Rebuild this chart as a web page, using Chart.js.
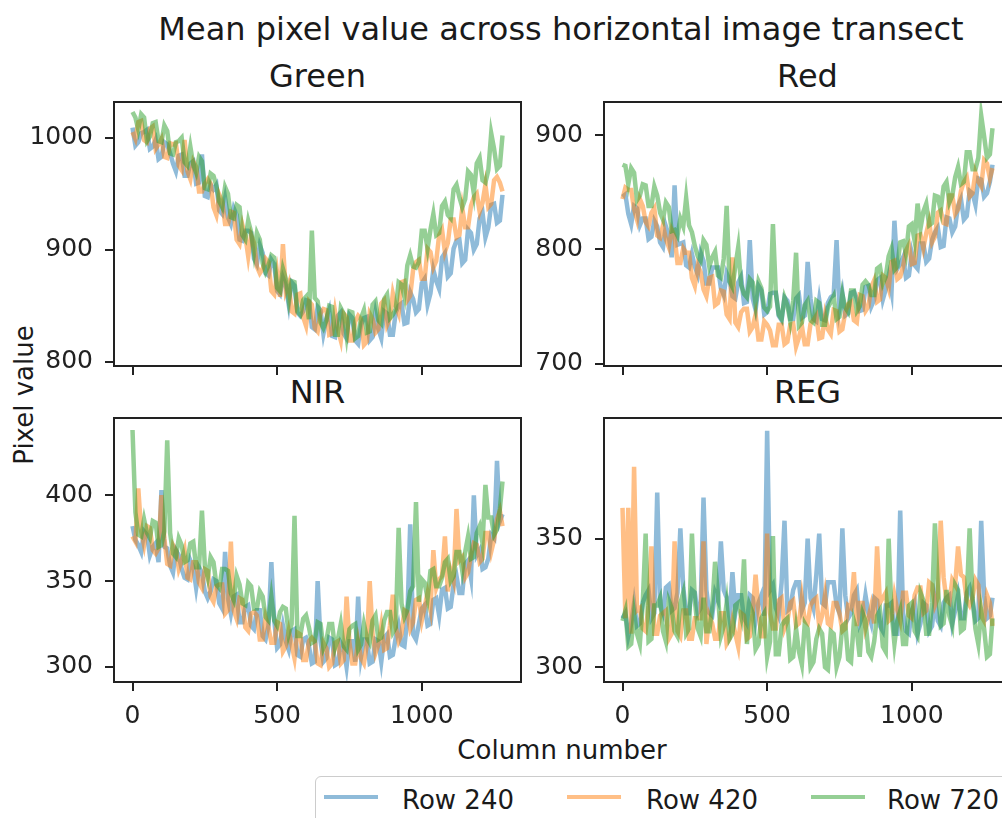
<!DOCTYPE html>
<html>
<head>
<meta charset="utf-8">
<title>Mean pixel value across horizontal image transect</title>
<script src="https://cdn.jsdelivr.net/npm/chart.js@4.4.1/dist/chart.umd.min.js"></script>
<style>
  html, body { margin: 0; padding: 0; background: #fff; }
  body {
    width: 1002px; height: 818px; overflow: hidden; position: relative;
    font-family: "DejaVu Sans", sans-serif; color: #1a1a1a;
  }
  canvas { position: absolute; }
  .txt { position: absolute; white-space: nowrap; line-height: 1; }
  .center { transform: translateX(-50%); }
  #legendBox {
    position: absolute; left: 315px; top: 776px; width: 740px; height: 80px;
    border: 1.5px solid #cccccc; border-radius: 6px; background: rgba(255,255,255,0.8);
  }
  .handle { position: absolute; height: 4px; }
</style>
</head>
<body>
<div class="txt center" style="left:561px; top:12.9px; font-size:32px;">Mean pixel value across horizontal image transect</div>
<div class="txt center" style="left:317.5px; top:60px; font-size:32px;">Green</div>
<div class="txt center" style="left:807.5px; top:60px; font-size:32px;">Red</div>
<div class="txt center" style="left:317.5px; top:376px; font-size:32px;">NIR</div>
<div class="txt center" style="left:807.5px; top:376px; font-size:32px;">REG</div>
<div class="txt center" style="left:562px; top:737px; font-size:26px;">Column number</div>
<div class="txt" style="left:24px; top:395px; font-size:26px; transform: translate(-50%, -50%) rotate(-90deg);">Pixel value</div>

<canvas id="greenChart" width="525" height="282" style="left:0px; top:98px;"></canvas>
<canvas id="redChart" width="525" height="282" style="left:490px; top:98px;"></canvas>
<canvas id="nirChart" width="525" height="318" style="left:0px; top:414px;"></canvas>
<canvas id="regChart" width="525" height="318" style="left:490px; top:414px;"></canvas>

<div id="legendBox"></div>

<script>
// column positions along the transect
const columns = [0, 10, 20, 30, 40, 50, 60, 70, 80, 90, 100, 110, 120, 130, 140, 150, 160, 170,
  180, 190, 200, 210, 220, 230, 240, 250, 260, 270, 280, 290, 300, 310, 320, 330, 340, 350, 360,
  370, 380, 390, 400, 410, 420, 430, 440, 450, 460, 470, 480, 490, 500, 510, 520, 530, 540, 550,
  560, 570, 580, 590, 600, 610, 620, 630, 640, 650, 660, 670, 680, 690, 700, 710, 720, 730, 740,
  750, 760, 770, 780, 790, 800, 810, 820, 830, 840, 850, 860, 870, 880, 890, 900, 910, 920, 930,
  940, 950, 960, 970, 980, 990, 1000, 1010, 1020, 1030, 1040, 1050, 1060, 1070, 1080, 1090, 1100,
  1110, 1120, 1130, 1140, 1150, 1160, 1170, 1180, 1190, 1200, 1210, 1220, 1230, 1240, 1250, 1260,
  1270, 1279];

const rowLabels = ['Row 240', 'Row 420', 'Row 720'];
const rowColors = ['rgba(31,119,180,0.5)', 'rgba(255,127,14,0.5)', 'rgba(44,160,44,0.5)'];

// Green band
const greenRow240 = [1009, 993, 996, 1004, 1005, 1007, 990, 992, 998, 981,
  983, 996, 994, 986, 977, 970, 984, 985, 966, 966,
  977, 979, 959, 960, 985, 948, 947, 958, 954, 958,
  935, 932, 946, 929, 923, 937, 931, 909, 908, 917,
  917, 915, 892, 887, 904, 897, 879, 877, 891, 887,
  863, 860, 875, 868, 851, 871, 868, 844, 841, 845,
  855, 854, 831, 829, 849, 846, 825, 838, 846, 823,
  822, 841, 844, 825, 821, 842, 839, 819, 816, 833,
  839, 840, 819, 822, 843, 829, 821, 845, 843, 824,
  824, 844, 850, 852, 834, 835, 862, 856, 844, 847,
  870, 874, 851, 861, 882, 872, 865, 893, 897, 876,
  879, 901, 908, 909, 888, 891, 918, 915, 900, 905,
  928, 933, 911, 920, 940, 941, 924, 926, 949];
const greenRow420 = [1005, 999, 1014, 1015, 998, 996, 1008, 1010, 990, 994,
  999, 983, 982, 995, 994, 995, 975, 971, 998, 970,
  963, 979, 974, 952, 952, 959, 963, 959, 938, 931,
  949, 943, 923, 923, 934, 933, 909, 905, 922, 912,
  894, 913, 906, 885, 879, 883, 892, 889, 863, 860,
  879, 858, 905, 863, 870, 845, 843, 860, 861, 840,
  832, 854, 851, 830, 827, 843, 847, 846, 824, 825,
  845, 829, 819, 843, 840, 819, 819, 836, 841, 838,
  815, 818, 843, 838, 826, 829, 852, 855, 833, 839,
  861, 850, 843, 871, 872, 855, 859, 882, 889, 891,
  874, 874, 901, 898, 884, 890, 913, 918, 898, 906,
  927, 927, 911, 913, 937, 920, 920, 939, 947, 950,
  934, 942, 958, 938, 941, 962, 965, 960, 952];
const greenRow720 = [1023, 1018, 1007, 1021, 1018, 997, 1001, 1013, 1014, 997,
  996, 1011, 1006, 986, 985, 996, 997, 1000, 978, 975,
  992, 976, 969, 983, 979, 955, 954, 968, 966, 957,
  943, 938, 956, 950, 929, 928, 940, 938, 913, 909,
  926, 916, 897, 915, 909, 888, 880, 886, 895, 893,
  866, 863, 883, 874, 855, 872, 871, 845, 842, 855,
  858, 838, 917, 857, 854, 835, 830, 837, 850, 849,
  824, 824, 848, 843, 823, 845, 844, 821, 823, 839,
  846, 826, 827, 851, 854, 837, 834, 856, 860, 839,
  842, 847, 871, 869, 858, 886, 895, 885, 884, 889,
  917, 917, 901, 918, 932, 913, 915, 939, 943, 931,
  928, 954, 958, 947, 938, 945, 970, 967, 950, 977,
  982, 962, 960, 971, 1004, 990, 972, 975, 1002];

// Red band
const redRow240 = [846, 848, 831, 822, 838, 836, 821, 827, 827, 809,
  811, 825, 820, 806, 802, 820, 812, 793, 856, 804,
  805, 806, 786, 784, 796, 785, 778, 797, 790, 770,
  770, 784, 784, 784, 766, 760, 779, 773, 759, 757,
  771, 776, 753, 754, 808, 757, 747, 768, 764, 743,
  745, 761, 762, 762, 742, 738, 758, 755, 739, 739,
  757, 760, 740, 742, 789, 757, 739, 737, 756, 739,
  738, 753, 758, 760, 808, 748, 762, 742, 744, 762,
  763, 757, 746, 747, 767, 768, 750, 756, 773, 775,
  756, 765, 777, 763, 825, 783, 787, 793, 775, 777,
  797, 786, 783, 805, 805, 789, 792, 808, 815, 819,
  802, 803, 828, 827, 815, 820, 838, 844, 826, 829,
  851, 849, 839, 862, 861, 846, 849, 859, 874];
const redRow420 = [844, 854, 852, 852, 835, 826, 844, 838, 824, 820,
  832, 836, 812, 810, 821, 809, 802, 817, 811, 788,
  788, 801, 797, 797, 775, 768, 786, 780, 765, 759,
  775, 776, 751, 753, 764, 763, 743, 739, 793, 736,
  732, 745, 748, 748, 728, 732, 743, 721, 721, 737,
  734, 729, 716, 716, 734, 734, 717, 719, 734, 735,
  715, 723, 733, 717, 717, 735, 738, 742, 722, 723,
  742, 730, 726, 747, 746, 728, 730, 745, 752, 754,
  738, 736, 760, 759, 746, 750, 767, 773, 754, 756,
  777, 775, 766, 789, 790, 774, 776, 785, 799, 804,
  787, 788, 812, 813, 801, 814, 824, 806, 811, 832,
  834, 823, 822, 847, 847, 831, 835, 851, 859, 863,
  846, 849, 867, 859, 855, 878, 875, 862, 871];
const redRow720 = [874, 873, 857, 871, 867, 843, 847, 857, 856, 838,
  838, 855, 847, 832, 826, 841, 837, 816, 817, 812,
  827, 820, 845, 821, 815, 803, 794, 790, 808, 804,
  785, 793, 798, 777, 775, 792, 838, 772, 767, 785,
  802, 769, 761, 758, 774, 771, 752, 772, 766, 749,
  746, 750, 822, 762, 743, 739, 758, 751, 737, 755,
  797, 733, 736, 751, 755, 738, 736, 755, 753, 734,
  734, 749, 754, 759, 739, 741, 761, 749, 745, 764,
  764, 746, 750, 769, 772, 769, 760, 760, 783, 785,
  770, 776, 794, 801, 782, 785, 806, 807, 796, 820,
  822, 807, 840, 818, 833, 840, 821, 823, 847, 846,
  834, 855, 859, 841, 847, 863, 872, 857, 859, 885,
  885, 870, 870, 880, 917, 899, 880, 883, 906];

// NIR band
const nirRow240 = [382, 374, 371, 367, 379, 377, 365, 370, 372, 361,
  403, 370, 369, 359, 355, 368, 365, 357, 352, 351,
  362, 358, 346, 358, 355, 344, 340, 344, 351, 350,
  337, 334, 367, 340, 331, 341, 342, 326, 326, 335,
  336, 324, 322, 333, 333, 318, 316, 324, 361, 327,
  311, 313, 324, 315, 310, 321, 322, 307, 306, 316,
  317, 312, 302, 303, 350, 315, 303, 305, 317, 316,
  301, 302, 314, 311, 300, 315, 315, 303, 341, 306,
  316, 316, 302, 303, 316, 315, 303, 317, 319, 306,
  307, 317, 324, 313, 312, 328, 383, 319, 316, 325,
  334, 336, 324, 325, 339, 340, 330, 345, 346, 334,
  335, 348, 353, 343, 343, 360, 362, 352, 400, 365,
  368, 357, 358, 363, 377, 375, 420, 385, 389];
const nirRow420 = [376, 373, 404, 379, 371, 382, 381, 368, 366, 369,
  400, 375, 360, 359, 371, 368, 357, 362, 368, 352,
  351, 361, 361, 349, 346, 357, 356, 341, 338, 347,
  348, 348, 331, 333, 373, 333, 328, 340, 339, 323,
  321, 331, 332, 330, 316, 316, 329, 323, 314, 314,
  326, 325, 309, 312, 321, 313, 305, 320, 319, 304,
  304, 315, 317, 315, 302, 301, 314, 311, 300, 302,
  314, 315, 302, 304, 341, 314, 302, 302, 315, 305,
  302, 313, 350, 319, 308, 313, 324, 310, 311, 324,
  342, 323, 315, 319, 333, 332, 322, 326, 339, 340,
  327, 335, 343, 334, 368, 346, 351, 353, 376, 344,
  356, 350, 392, 362, 364, 352, 355, 365, 372, 371,
  361, 363, 378, 378, 367, 374, 386, 391, 382];
const nirRow720 = [438, 390, 377, 376, 386, 378, 375, 385, 384, 370,
  371, 379, 432, 378, 366, 364, 375, 371, 361, 362,
  372, 373, 358, 358, 391, 359, 352, 364, 361, 348,
  346, 357, 357, 356, 343, 339, 353, 348, 337, 336,
  349, 347, 334, 334, 344, 341, 329, 327, 341, 327,
  324, 332, 335, 334, 319, 325, 388, 318, 318, 328,
  330, 323, 314, 315, 326, 325, 311, 315, 325, 325,
  311, 316, 325, 312, 310, 322, 324, 325, 310, 313,
  325, 317, 314, 327, 330, 316, 317, 327, 332, 332,
  320, 323, 381, 337, 329, 333, 344, 347, 396, 338,
  351, 349, 340, 356, 357, 347, 347, 352, 361, 363,
  350, 353, 367, 367, 356, 367, 376, 363, 364, 378,
  382, 372, 406, 387, 387, 377, 380, 392, 408];

// REG band
const regRow240 = [319, 321, 312, 317, 325, 316, 317, 325, 328, 330,
  319, 321, 368, 324, 321, 331, 332, 322, 323, 329,
  354, 331, 321, 321, 330, 329, 321, 323, 366, 330,
  321, 320, 329, 326, 349, 330, 327, 319, 337, 321,
  328, 328, 319, 317, 328, 327, 318, 325, 328, 320,
  392, 330, 332, 323, 320, 333, 357, 322, 323, 330,
  333, 333, 322, 325, 350, 327, 323, 336, 352, 325,
  324, 333, 333, 333, 324, 321, 354, 328, 319, 321,
  328, 330, 317, 320, 328, 321, 317, 327, 326, 316,
  314, 324, 324, 325, 313, 313, 361, 321, 314, 313,
  322, 325, 313, 317, 325, 324, 314, 316, 326, 318,
  316, 325, 327, 328, 317, 322, 328, 319, 319, 329,
  331, 326, 318, 319, 357, 328, 319, 320, 327];
const regRow420 = [362, 319, 362, 313, 378, 322, 323, 315, 314, 324,
  347, 313, 313, 320, 321, 322, 311, 313, 349, 314,
  312, 322, 322, 311, 311, 319, 319, 319, 349, 309,
  320, 317, 311, 311, 321, 321, 309, 311, 318, 313,
  308, 321, 320, 311, 312, 321, 336, 322, 312, 312,
  352, 321, 315, 315, 326, 327, 315, 318, 325, 326,
  316, 317, 327, 318, 317, 324, 326, 327, 316, 320,
  328, 317, 316, 325, 325, 321, 314, 315, 324, 323,
  337, 316, 325, 325, 315, 319, 324, 317, 347, 325,
  327, 329, 318, 319, 328, 322, 318, 329, 329, 320,
  319, 328, 331, 331, 321, 322, 333, 332, 324, 327,
  357, 335, 326, 325, 334, 332, 347, 336, 335, 326,
  324, 327, 334, 332, 320, 318, 328, 325, 316];
const regRow720 = [318, 322, 308, 309, 321, 313, 309, 325, 352, 310,
  311, 324, 324, 327, 314, 310, 326, 323, 314, 312,
  325, 329, 313, 315, 352, 326, 315, 312, 327, 314,
  314, 323, 341, 328, 312, 316, 325, 311, 313, 324,
  325, 320, 342, 309, 324, 321, 307, 309, 319, 321,
  304, 310, 351, 305, 305, 316, 318, 319, 303, 304,
  315, 306, 301, 317, 315, 300, 302, 311, 315, 313,
  300, 299, 314, 313, 300, 304, 316, 317, 303, 302,
  318, 314, 304, 321, 318, 306, 304, 310, 320, 322,
  308, 306, 350, 321, 309, 318, 322, 309, 309, 324,
  325, 314, 312, 329, 326, 313, 313, 325, 356, 331,
  316, 317, 330, 320, 316, 332, 330, 314, 315, 327,
  354, 327, 315, 309, 322, 315, 304, 305, 319];

// axis ticks
const xTicks = [0, 500, 1000];
const greenTicks = [800, 900, 1000];
const redTicks = [700, 800, 900];
const nirTicks = [300, 350, 400];
const regTicks = [300, 350];

const tickFont = { family: 'DejaVu Sans', size: 25 };
const inkColor = '#222';

// box round each plot area
const frame = {
  id: 'frame',
  afterDraw(chart) {
    const { ctx, chartArea: a } = chart;
    ctx.save();
    ctx.strokeStyle = inkColor;
    ctx.lineWidth = 2;
    ctx.strokeRect(a.left, a.top, a.right - a.left, a.bottom - a.top);
    ctx.restore();
  }
};

function makePanel(id, series, yMin, yMax, yTicks, withXLabels) {
  const ctx = document.getElementById(id).getContext('2d');
  return new Chart(ctx, {
    type: 'line',
    data: {
      datasets: series.map((vals, i) => ({
        label: rowLabels[i],
        data: columns.map((c, j) => ({ x: c, y: vals[j] })),
        borderColor: rowColors[i],
        borderWidth: 4.5,
        pointRadius: 0,
        tension: 0,
        order: 3 - i
      }))
    },
    options: {
      responsive: false,
      animation: false,
      devicePixelRatio: 1,
      events: [],
      layout: { padding: { top: 4, right: 4, left: 0, bottom: 0 } },
      plugins: { legend: { display: false }, tooltip: { enabled: false } },
      scales: {
        x: {
          type: 'linear',
          min: -64,
          max: 1343,
          afterBuildTicks: axis => { axis.ticks = xTicks.map(v => ({ value: v })); },
          afterFit: axis => {
            axis.height = withXLabels ? 50 : 14;
            axis.paddingLeft = 0;
            axis.paddingRight = 0;
          },
          grid: { drawOnChartArea: false, tickLength: 9, lineWidth: 2, color: inkColor },
          border: { display: false },
          ticks: {
            display: withXLabels,
            autoSkip: false,
            maxRotation: 0,
            padding: 10,
            font: tickFont,
            color: inkColor,
            callback: v => String(v)
          }
        },
        y: {
          min: yMin,
          max: yMax,
          afterBuildTicks: axis => { axis.ticks = yTicks.map(v => ({ value: v })); },
          afterFit: axis => {
            axis.width = 114;
            axis.paddingTop = 0;
            axis.paddingBottom = 0;
          },
          grid: { drawOnChartArea: false, tickLength: 9, lineWidth: 2, color: inkColor },
          border: { display: false },
          ticks: {
            autoSkip: false,
            padding: 12,
            font: tickFont,
            color: inkColor,
            callback: v => String(v)
          }
        }
      }
    },
    plugins: [frame]
  });
}

makePanel('greenChart', [greenRow240, greenRow420, greenRow720], 796.2, 1031.9, greenTicks, false);
makePanel('redChart', [redRow240, redRow420, redRow720], 697.9, 928.9, redTicks, false);
makePanel('nirChart', [nirRow240, nirRow420, nirRow720], 291.2, 445.0, nirTicks, true);
makePanel('regChart', [regRow240, regRow420, regRow720], 294.2, 397.0, regTicks, true);

// figure legend below the panels
const handleLeft = [324, 567, 811];
const labelLeft = [402, 646, 887];
rowLabels.forEach((name, i) => {
  const line = document.createElement('div');
  line.className = 'handle';
  line.style.left = handleLeft[i] + 'px';
  line.style.top = '795px';
  line.style.width = '54px';
  line.style.background = rowColors[i];
  document.body.appendChild(line);

  const txt = document.createElement('div');
  txt.className = 'txt';
  txt.style.left = labelLeft[i] + 'px';
  txt.style.top = '786.5px';
  txt.style.fontSize = '26px';
  txt.textContent = name;
  document.body.appendChild(txt);
});
</script>
</body>
</html>
